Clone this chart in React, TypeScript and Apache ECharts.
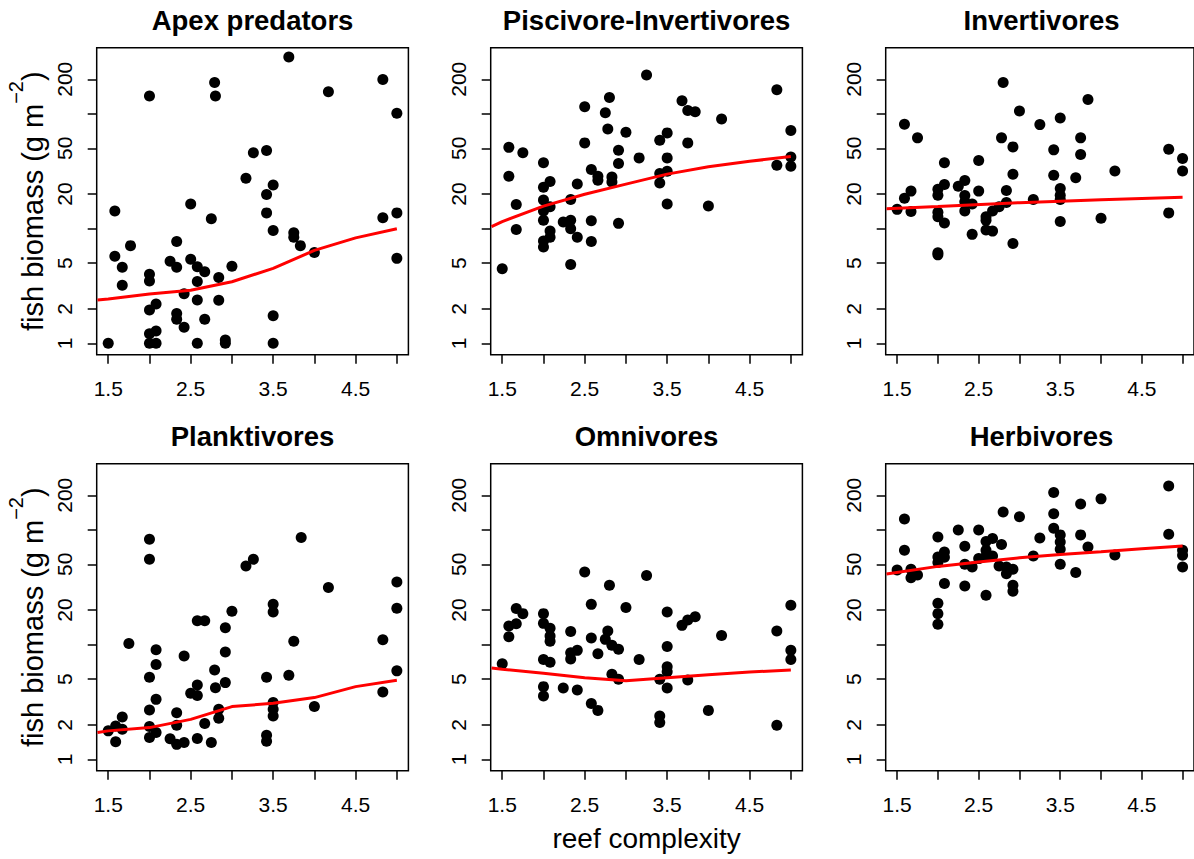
import React, { useEffect, useRef } from "react";
import * as echarts from "echarts";

const FONT = '"Liberation Sans", Arial, Helvetica, sans-serif';

// ---- axes ----
const X_MIN = 1.36;
const X_MAX = 5.14;
const X_TICKS = [1.5, 2, 2.5, 3, 3.5, 4, 4.5, 5];
const X_LABELS = [1.5, 2.5, 3.5, 4.5];
const Y_MIN = 0.796;
const Y_MAX = 376.7;
const Y_TICKS = [1, 2, 5, 10, 20, 50, 100, 200];
const Y_LABELS = [1, 2, 5, 20, 50, 200];

const TITLES = ["Apex predators", "Piscivore-Invertivores", "Invertivores", "Planktivores", "Omnivores", "Herbivores"];
const X_TITLE = "reef complexity";

// ---- data: [reef complexity, fish biomass] ----
const apexPoints = [
  [1.5, 1], [1.58, 14.2], [1.58, 5.75], [1.67, 4.6], [1.67, 3.2], [1.77, 7.1],
  [2.0, 143], [2.0, 4.0], [2.0, 3.5], [2.0, 1.95], [2.0, 1.21], [2.0, 1.0],
  [2.08, 2.2], [2.08, 1.28], [2.08, 1.0],
  [2.25, 5.2], [2.33, 7.7], [2.33, 4.6], [2.33, 1.82], [2.33, 1.62],
  [2.42, 2.7], [2.42, 1.38], [2.5, 16.4], [2.5, 5.4],
  [2.58, 4.65], [2.58, 3.45], [2.58, 2.38], [2.58, 1.0],
  [2.67, 4.2], [2.67, 1.62], [2.75, 12.2], [2.79, 187], [2.8, 143],
  [2.84, 3.75], [2.84, 2.37], [2.92, 1.07], [2.92, 1.0], [3.0, 4.7],
  [3.17, 27.5], [3.26, 45.7], [3.42, 47.8], [3.42, 19.8], [3.42, 13.7],
  [3.5, 24], [3.5, 9.6], [3.5, 1.74], [3.5, 1.0],
  [3.69, 313], [3.75, 9.2], [3.75, 8.4], [3.83, 7.1], [4.0, 6.2], [4.17, 156],
  [4.83, 199], [4.83, 12.4], [5.0, 101], [5.0, 13.7], [5.0, 5.5],
];
const apexFit = [[1.37, 2.38], [1.5, 2.43], [2.0, 2.69], [2.5, 2.9], [3.0, 3.44], [3.5, 4.5], [4.0, 6.45], [4.5, 8.3], [5.0, 9.95]];

const piscPoints = [
  [1.5, 4.47], [1.58, 51], [1.58, 28.6], [1.67, 16.2], [1.67, 9.8], [1.75, 45.7],
  [2.0, 37.4], [2.0, 22.9], [2.0, 17.7], [2.0, 14.2], [2.0, 11.8], [2.0, 7.8], [2.0, 6.9],
  [2.08, 25.7], [2.08, 15.5], [2.08, 9.5], [2.08, 8.4],
  [2.24, 11.4], [2.33, 17.9], [2.33, 11.8], [2.33, 9.95], [2.33, 4.87],
  [2.41, 24.4], [2.41, 8.4], [2.5, 115], [2.5, 55.8],
  [2.58, 32.7], [2.58, 11.7], [2.58, 7.7], [2.66, 28.6], [2.66, 26.4],
  [2.75, 102], [2.8, 139], [2.78, 73.8], [2.83, 28.2], [2.83, 25.5],
  [2.91, 48.2], [2.91, 36.9], [2.91, 11.1], [3.0, 69], [3.16, 41.3], [3.25, 218],
  [3.41, 58.8], [3.41, 30.2], [3.41, 25], [3.5, 68.2], [3.5, 41.3], [3.5, 31.6], [3.5, 16.4],
  [3.68, 130], [3.75, 107], [3.84, 104], [3.75, 55.8], [4.0, 15.7], [4.16, 90],
  [4.83, 162], [4.83, 35.7], [5.0, 71.4], [5.0, 42.1], [5.0, 34.9],
];
const piscFit = [[1.37, 10.4], [1.5, 11.5], [2.0, 15.7], [2.5, 19.9], [3.0, 24.4], [3.5, 29.8], [4.0, 34.5], [4.5, 38.6], [5.0, 42.4]];

const invPoints = [
  [1.5, 14.7], [1.59, 81], [1.59, 18.4], [1.67, 21.2], [1.67, 14.1], [1.75, 61.7],
  [2.0, 22], [2.0, 19.5], [2.0, 13.9], [2.0, 12.7], [2.0, 6.15], [2.0, 5.9],
  [2.08, 37.4], [2.08, 24.2], [2.08, 11.2],
  [2.25, 23.4], [2.33, 26.2], [2.33, 19.4], [2.33, 17.1], [2.33, 14.2],
  [2.42, 16.4], [2.42, 8.9], [2.5, 39.1], [2.5, 21.2],
  [2.59, 12.7], [2.59, 11.8], [2.59, 9.7], [2.67, 14.2], [2.67, 9.5],
  [2.75, 15.5], [2.8, 187], [2.78, 61.7], [2.84, 21.5], [2.84, 16.9],
  [2.92, 51.5], [2.92, 29.8], [2.92, 7.4], [3.0, 106], [3.17, 17.9], [3.25, 80.5],
  [3.42, 48.5], [3.42, 29.2], [3.5, 92], [3.5, 22.3], [3.5, 19.5], [3.5, 17.9], [3.5, 11.5],
  [3.69, 27.7], [3.75, 61.7], [3.75, 44.2], [3.84, 133], [4.0, 12.3], [4.17, 31.8],
  [4.83, 49.1], [4.83, 13.7], [5.0, 40.7], [5.0, 31.8],
];
const invFit = [[1.37, 14.9], [2.0, 15.6], [3.0, 16.8], [4.0, 17.8], [5.0, 18.7]];

const plankPoints = [
  [1.5, 1.77], [1.59, 1.95], [1.59, 1.42], [1.67, 2.34], [1.67, 1.83], [1.75, 10.2],
  [2.0, 82.7], [2.0, 55.3], [2.0, 5.2], [2.0, 2.69], [2.0, 1.93], [2.0, 1.55],
  [2.08, 9.0], [2.08, 6.7], [2.08, 3.33], [2.08, 1.71],
  [2.25, 1.51], [2.33, 2.55], [2.33, 1.98], [2.33, 1.35], [2.42, 7.95], [2.42, 1.4],
  [2.5, 3.76], [2.58, 16.1], [2.58, 4.45], [2.58, 3.6], [2.58, 1.52],
  [2.67, 16.1], [2.67, 2.05], [2.75, 1.4], [2.79, 6.0], [2.8, 4.2],
  [2.84, 2.73], [2.84, 2.28], [2.92, 14], [2.92, 8.6], [2.92, 4.66],
  [3.0, 19.5], [3.17, 48.4], [3.26, 55.3], [3.42, 5.2], [3.42, 1.62], [3.42, 1.44],
  [3.5, 22.4], [3.5, 19.2], [3.5, 3.12], [3.5, 2.73], [3.5, 2.39],
  [3.69, 5.4], [3.75, 10.7], [3.84, 85.5], [4.0, 2.88], [4.17, 31.4],
  [4.83, 11], [4.83, 3.86], [5.0, 35.1], [5.0, 20.7], [5.0, 5.9],
];
const plankFit = [[1.37, 1.71], [1.5, 1.77], [2.0, 1.89], [2.5, 2.23], [3.0, 2.88], [3.5, 3.08], [4.0, 3.45], [4.5, 4.3], [5.0, 4.88]];

const omniPoints = [
  [1.5, 6.8], [1.58, 14.5], [1.58, 11.7], [1.67, 20.6], [1.67, 15.2], [1.75, 18.6],
  [2.0, 18.6], [2.0, 15.3], [2.0, 7.4], [2.0, 4.3], [2.0, 3.56],
  [2.08, 13.9], [2.08, 11.9], [2.08, 10.7], [2.08, 7.0],
  [2.24, 4.18], [2.33, 13], [2.33, 8.5], [2.33, 7.5], [2.41, 8.9], [2.41, 4.02],
  [2.5, 42.9], [2.58, 22.4], [2.58, 11.4], [2.58, 3.06], [2.66, 8.3], [2.66, 2.67],
  [2.75, 11.1], [2.78, 13.1], [2.8, 32.9], [2.83, 9.85], [2.83, 5.5],
  [2.91, 9.1], [2.91, 4.98], [3.0, 21], [3.16, 7.4], [3.25, 39.9],
  [3.41, 4.98], [3.41, 2.39], [3.41, 2.09],
  [3.5, 19.2], [3.5, 9.6], [3.5, 6.4], [3.5, 5.8], [3.5, 4.18],
  [3.68, 14.7], [3.75, 16.4], [3.84, 17.5], [3.75, 4.92], [4.0, 2.67], [4.16, 12],
  [4.83, 13.1], [4.83, 1.98], [5.0, 22], [5.0, 8.9], [5.0, 7.4],
];
const omniFit = [[1.37, 6.25], [1.5, 6.09], [2.0, 5.62], [2.5, 5.15], [3.0, 4.85], [3.5, 5.15], [4.0, 5.47], [4.5, 5.77], [5.0, 6.0]];

const herbPoints = [
  [1.5, 44.7], [1.59, 124], [1.59, 66.3], [1.67, 45.3], [1.67, 38.3], [1.75, 40.4],
  [2.0, 86.7], [2.0, 58], [2.0, 52], [2.0, 22.9], [2.0, 18.6], [2.0, 15],
  [2.08, 64.1], [2.08, 57.6], [2.08, 34],
  [2.25, 99.7], [2.33, 71.9], [2.33, 50.1], [2.33, 32.4], [2.42, 47.5],
  [2.5, 99.7], [2.5, 56.1], [2.59, 78.9], [2.59, 66.3], [2.59, 59.2], [2.59, 26.9],
  [2.67, 83.8], [2.67, 59.2], [2.75, 48.4], [2.8, 143], [2.78, 74.3],
  [2.84, 47.5], [2.84, 41.5], [2.92, 45.3], [2.92, 32.9], [2.92, 29.1],
  [3.0, 130], [3.17, 59.2], [3.25, 84.9], [3.42, 211], [3.42, 138], [3.42, 103],
  [3.5, 90.3], [3.5, 78.4], [3.5, 67.7], [3.5, 50.1],
  [3.69, 42.4], [3.75, 168], [3.75, 90.3], [3.84, 70.9], [4.0, 186], [4.17, 60.4],
  [4.83, 241], [4.83, 91.4], [5.0, 66.3], [5.0, 60], [5.0, 47.5],
];
const herbFit = [[1.37, 41.2], [2.0, 48], [2.5, 52.5], [3.0, 57], [3.5, 61], [4.0, 64.5], [4.5, 68.5], [5.0, 72.3]];

const POINTS = [apexPoints, piscPoints, invPoints, plankPoints, omniPoints, herbPoints];
const FITS = [apexFit, piscFit, invFit, plankFit, omniFit, herbFit];

// ---- layout ----
const COL_LEFT = [96.7, 490.7, 885.7];
const ROW_TOP = [47.7, 463.7];
const GRID_W = 311.7;
const GRID_H = 307;

export default function App() {
  const ref = useRef<HTMLDivElement>(null);

  useEffect(() => {
    if (!ref.current) return;
    const chart = echarts.init(ref.current, null, { renderer: "svg" });
    const grid: any[] = [];
    const xAxis: any[] = [];
    const yAxis: any[] = [];
    const series: any[] = [];
    const graphic: any[] = [];

    TITLES.forEach((title, i) => {
      const col = i % 3;
      const row = Math.floor(i / 3);
      const left = COL_LEFT[col];
      const top = ROW_TOP[row];
      grid.push({
        left, top, width: GRID_W, height: GRID_H,
        show: true, borderColor: "#000", borderWidth: 1.5, backgroundColor: "transparent",
      });
      xAxis.push({
        gridIndex: i, type: "value", min: X_MIN, max: X_MAX,
        axisLine: { show: false }, splitLine: { show: false },
        axisTick: { show: true, length: 9, customValues: X_TICKS, lineStyle: { color: "#000", width: 1.5 } },
        axisLabel: {
          customValues: X_LABELS, formatter: (v: number) => v.toFixed(1),
          margin: 23, fontSize: 21, color: "#000", fontFamily: FONT,
          showMinLabel: true, showMaxLabel: true,
        },
      });
      yAxis.push({
        gridIndex: i, type: "log", logBase: 10, min: Y_MIN, max: Y_MAX,
        axisLine: { show: false }, splitLine: { show: false }, minorTick: { show: false },
        axisTick: { show: true, length: 9, customValues: Y_TICKS, lineStyle: { color: "#000", width: 1.5 } },
        axisLabel: {
          customValues: Y_LABELS, formatter: (v: number) => String(Math.round(v)),
          rotate: 90, margin: 22, fontSize: 21, color: "#000", fontFamily: FONT,
          showMinLabel: true, showMaxLabel: true,
        },
      });
      series.push({
        type: "scatter", xAxisIndex: i, yAxisIndex: i, data: POINTS[i],
        symbol: "circle", symbolSize: 11, itemStyle: { color: "#000", opacity: 1 }, z: 2, silent: true,
      });
      series.push({
        type: "line", xAxisIndex: i, yAxisIndex: i, data: FITS[i],
        showSymbol: false, symbol: "none", lineStyle: { color: "#ff0000", width: 3 },
        itemStyle: { color: "#ff0000" }, z: 3, clip: true, silent: true,
      });
      graphic.push({
        type: "text", x: left + GRID_W / 2, y: top - 27.3,
        style: {
          text: title, fontSize: 27.5, fontWeight: "bold", fontFamily: FONT, fill: "#000",
          align: "center", verticalAlign: "middle", textAlign: "center", textVerticalAlign: "middle",
        },
      });
    });

    const richY = {
      m: { fontSize: 29, fontFamily: FONT, lineHeight: 41.5, verticalAlign: "bottom", fill: "#000", color: "#000" },
      s: { fontSize: 20, fontFamily: FONT, lineHeight: 20, verticalAlign: "top", fill: "#000", color: "#000" },
    };
    ROW_TOP.forEach((top) => {
      graphic.push({
        type: "text", x: 27, y: top + GRID_H / 2, rotation: Math.PI / 2,
        style: {
          text: "{m|fish biomass (g m}{s|\u22122}{m|)}", rich: richY, fill: "#000",
          align: "center", verticalAlign: "middle", textAlign: "center", textVerticalAlign: "middle",
        },
      });
    });
    graphic.push({
      type: "text", x: COL_LEFT[1] + GRID_W / 2, y: 838.3,
      style: {
        text: X_TITLE, fontSize: 28, fontFamily: FONT, fill: "#000",
        align: "center", verticalAlign: "middle", textAlign: "center", textVerticalAlign: "middle",
      },
    });

    chart.setOption({
      animation: false,
      backgroundColor: "#fff",
      textStyle: { fontFamily: FONT },
      grid, xAxis, yAxis, series, graphic,
    });
    return () => chart.dispose();
  }, []);

  return (
    <div
      ref={ref}
      style={{ position: "absolute", left: 0, top: 0, width: 1194, height: 859, background: "#fff" }}
    />
  );
}
